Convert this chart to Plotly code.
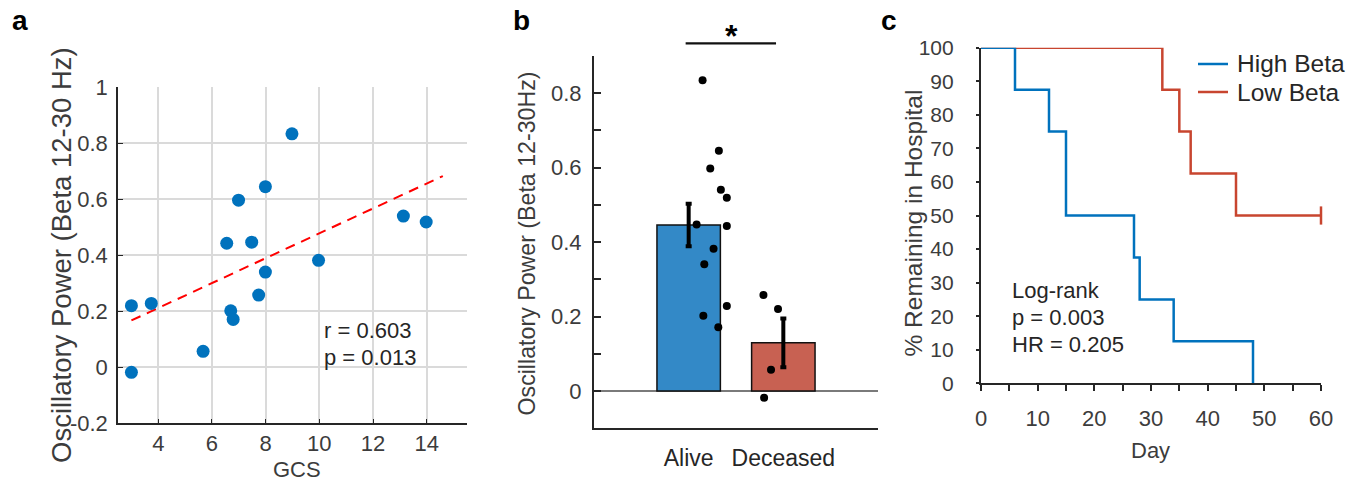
import numpy as np
import plotly.graph_objects as go

# ---------------- data ----------------
gcs = [3.0, 3.74, 3.0, 5.67, 6.55, 6.70, 6.79, 6.99, 7.48, 7.74, 7.99, 7.99, 8.98, 9.97, 13.13, 13.98]
beta_power = [0.220, 0.228, -0.018, 0.057, 0.443, 0.202, 0.171, 0.597, 0.447, 0.258,
              0.645, 0.340, 0.834, 0.382, 0.540, 0.519]
outcome = ["Deceased", "Alive", "Deceased", "Deceased", "Alive", "Alive", "Alive", "Alive",
           "Alive", "Deceased", "Alive", "Alive", "Alive", "Alive", "Alive", "Alive"]
jitter = [-0.056, 0.403, -0.203, -0.13, 0.403, 0.155, 0.313, 0.228, 0.084, -0.21,
          0.319, 0.165, 0.147, 0.263, 0.34, 0.403]
groups = ["Alive", "Deceased"]
fit_x = [3.0, 14.6]
stats_a = ["r = 0.603", "p = 0.013"]

high_beta_days = [6, 12, 15, 15, 27, 28, 34, 48]
high_beta_event = [1, 1, 1, 1, 1, 1, 1, 1]
low_beta_days = [32, 35, 37, 45, 60, 60, 60, 60]
low_beta_event = [1, 1, 1, 1, 0, 0, 0, 0]
stats_c = ["Log-rank", "p = 0.003", "HR = 0.205"]

# ---------------- helpers ----------------
W, H = 1361, 482
FONT = "Liberation Sans, Arial, sans-serif"
TXT = "#3c3c3c"
DARK = "#262626"


def px(x):
    return x / W


def py(y):
    return 1 - y / H


def km(days, events):
    days = np.asarray(days, float)
    events = np.asarray(events, int)
    s = 1.0
    xs, ys = [0.0], [100.0]
    for t in np.unique(days[events == 1]):
        d = np.sum((days == t) & (events == 1))
        n = np.sum(days >= t)
        s *= 1 - d / n
        xs.append(t)
        ys.append(s * 100)
    if days.max() > xs[-1]:
        xs.append(days.max())
        ys.append(s * 100)
    return xs, ys, s * 100


fig = go.Figure()

# ---------------- panel a ----------------
coef = np.polyfit(gcs, beta_power, 1)
fig.add_trace(go.Scatter(x=fit_x, y=np.polyval(coef, fit_x), mode="lines",
                         line=dict(color="#ff0000", width=2, dash="10px,7px"),
                         xaxis="x", yaxis="y", showlegend=False))
fig.add_trace(go.Scatter(x=gcs, y=beta_power, mode="markers",
                         marker=dict(color="#0072BD", size=13),
                         xaxis="x", yaxis="y", showlegend=False))

# ---------------- panel b ----------------
pw = np.array(beta_power)
oc = np.array(outcome)
means, sems = [], []
for g in groups:
    v = pw[oc == g]
    means.append(v.mean())
    sems.append(v.std(ddof=1) / np.sqrt(len(v)))
fig.add_trace(go.Bar(x=[1, 2], y=means, width=0.67,
                     marker=dict(color=["#3389C7", "#C86152"], line=dict(color="#111111", width=1.5)),
                     error_y=dict(type="data", array=sems, color="#000000", thickness=4, width=3),
                     xaxis="x2", yaxis="y2", showlegend=False))
xpos = [groups.index(o) + 1 + j for o, j in zip(outcome, jitter)]
fig.add_trace(go.Scatter(x=xpos, y=beta_power, mode="markers",
                         marker=dict(color="#000000", size=8),
                         xaxis="x2", yaxis="y2", showlegend=False))

# ---------------- panel c ----------------
lx, ly, lend = km(low_beta_days, low_beta_event)
hx, hy, _ = km(high_beta_days, high_beta_event)
fig.add_trace(go.Scatter(x=lx, y=ly, mode="lines", line=dict(color="#C8452F", width=2.5, shape="hv"),
                         xaxis="x3", yaxis="y3", showlegend=False, cliponaxis=False))
fig.add_trace(go.Scatter(x=[max(low_beta_days)], y=[lend], mode="markers",
                         marker=dict(symbol="line-ns", size=13, line=dict(color="#C8452F", width=2.5)),
                         xaxis="x3", yaxis="y3", showlegend=False, cliponaxis=False))
fig.add_trace(go.Scatter(x=hx, y=hy, mode="lines", line=dict(color="#0072BD", width=2.5, shape="hv"),
                         xaxis="x3", yaxis="y3", showlegend=False, cliponaxis=False))

# ---------------- axes ----------------
tickf = dict(family=FONT, size=22, color=TXT)
fig.update_layout(
    width=W, height=H, margin=dict(l=0, r=0, t=0, b=0, autoexpand=False),
    paper_bgcolor="white", plot_bgcolor="white",
    font=dict(family=FONT, color=TXT),
    xaxis=dict(domain=[px(118), px(467)], range=[2.5, 15.5], anchor="y", automargin=False,
               tickvals=[4, 6, 8, 10, 12, 14], ticks="inside", ticklen=5, tickcolor=DARK,
               showline=True, linecolor=DARK, linewidth=1.5, showgrid=True,
               gridcolor="#dadada", gridwidth=1.5, zeroline=False, tickfont=tickf,
               ticklabelstandoff=0),
    yaxis=dict(domain=[py(423.3), py(87.3)], range=[-0.2, 1.0], anchor="x", automargin=False,
               tickvals=[-0.2, 0, 0.2, 0.4, 0.6, 0.8, 1.0],
               ticktext=["-0.2", "0", "0.2", "0.4", "0.6", "0.8", "1"],
               ticks="inside", ticklen=5, tickcolor=DARK,
               showline=True, linecolor=DARK, linewidth=1.5, showgrid=True,
               gridcolor="#dadada", gridwidth=1.5, zeroline=False, tickfont=tickf,
               ticklabelstandoff=4),
    xaxis2=dict(domain=[px(594), px(878)], range=[0, 3], anchor="y2", automargin=False,
                tickvals=[1, 2], ticktext=groups, ticks="",
                tickfont=dict(family=FONT, size=23, color=DARK),
                showline=True, linecolor=DARK, linewidth=2, showgrid=False, zeroline=False,
                ticklabelstandoff=8),
    yaxis2=dict(domain=[py(428.25), py(55.75)], range=[-0.1, 0.9], anchor="x2", automargin=False,
                tickvals=[round(v, 1) for v in np.arange(-0.1, 0.95, 0.1)],
                ticktext=["", "0", "", "0.2", "", "0.4", "", "0.6", "", "0.8", ""],
                ticks="inside", ticklen=7, tickwidth=1.5, tickcolor=DARK,
                showline=True, linecolor=DARK, linewidth=2, showgrid=False,
                zeroline=True, zerolinecolor="#7a7a7a", zerolinewidth=1.5,
                tickfont=tickf, ticklabelstandoff=6),
    xaxis3=dict(domain=[px(981), px(1321)], range=[0, 60], anchor="y3", automargin=False,
                tickvals=list(range(0, 61, 5)),
                ticktext=[str(v) if v % 10 == 0 else "" for v in range(0, 61, 5)],
                ticks="outside", ticklen=6, tickwidth=2, tickcolor=DARK,
                showline=True, linecolor=DARK, linewidth=2.2, showgrid=False, zeroline=False,
                tickfont=dict(family=FONT, size=22, color=TXT), ticklabelstandoff=8),
    yaxis3=dict(domain=[py(383.3), py(47.7)], range=[0, 100], anchor="x3", automargin=False,
                tickvals=list(range(0, 101, 10)),
                ticks="outside", ticklen=3, tickwidth=2, tickcolor=DARK,
                showline=True, linecolor=DARK, linewidth=2.2, showgrid=False, zeroline=False,
                tickfont=dict(family=FONT, size=21, color=TXT), ticklabelstandoff=18),
)

ann = []


def label(text, x, y, size, color=TXT, angle=0, xanchor="center", bold=False):
    ann.append(dict(text=("<b>%s</b>" % text) if bold else text, x=px(x), y=py(y),
                    xref="paper", yref="paper", showarrow=False, textangle=angle,
                    xanchor=xanchor, yanchor="middle",
                    font=dict(family=FONT, size=size, color=color)))


# panel letters
label("a", 20, 21, 28, "#000000", bold=True)
label("b", 521, 21, 28, "#000000", bold=True)
label("c", 889, 21, 28, "#000000", bold=True)

# axis titles
label("Oscillatory Power (Beta 12-30 Hz)", 61, 255, 27.5, TXT, angle=-90)
label("GCS", 297, 469, 22, TXT)
label("Oscillatory Power (Beta 12-30Hz)", 526, 243.5, 23.2, TXT, angle=-90)
label("% Remaining in Hospital", 913, 223.5, 24.5, TXT, angle=-90)
label("Day", 1150, 450, 22, TXT)

# stats text
for i, s in enumerate(stats_a):
    label(s, 322, 330 + 27 * i, 22, DARK, xanchor="left")
for i, s in enumerate(stats_c):
    label(s, 1010, 290 + 27 * i, 22, DARK, xanchor="left")

# significance bracket and star
fig.add_shape(type="line", xref="x2", yref="paper", x0=0.968, x1=1.923,
              y0=py(43.3), y1=py(43.3), line=dict(color="#111111", width=2.2))
label("*", 731.5, 36, 32, "#000000", bold=True)

# legend (manual)
for i, (name, col) in enumerate([("High Beta", "#0072BD"), ("Low Beta", "#C8452F")]):
    yy = 64 + 28 * i
    fig.add_shape(type="line", xref="paper", yref="paper", x0=px(1198), x1=px(1228),
                  y0=py(yy), y1=py(yy), line=dict(color=col, width=2.5))
    label(name, 1235, yy, 24.5, DARK, xanchor="left")

fig.update_layout(annotations=ann)
fig.write_html("out.html")
